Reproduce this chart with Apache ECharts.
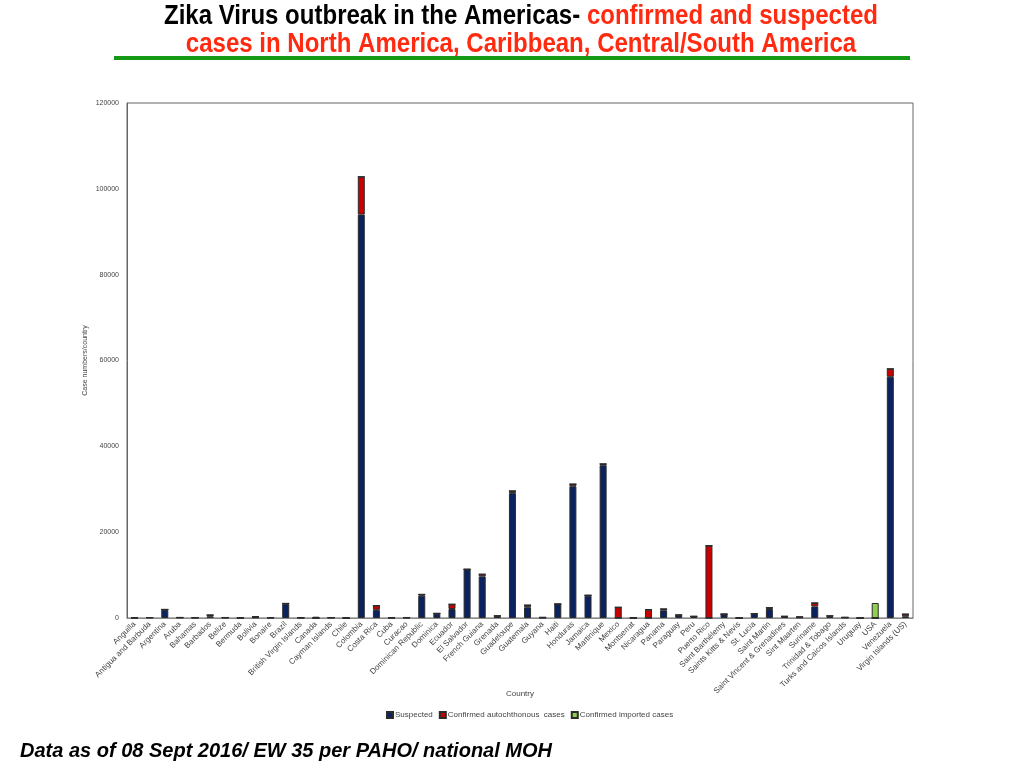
<!DOCTYPE html>
<html>
<head>
<meta charset="utf-8">
<script src="https://cdn.jsdelivr.net/npm/echarts@6/dist/echarts.min.js"></script>
<style>
  html, body { margin: 0; padding: 0; background: #fff; }
  #chart { width: 1024px; height: 768px; }
</style>
</head>
<body>
<div id="chart"></div>
<script>
// 国家列表 + 三类病例数 (从图上读出来的估计值)
var countries = ['Anguilla', 'Antigua and Barbuda', 'Argentina', 'Aruba', 'Bahamas', 'Barbados', 'Belize', 'Bermuda',
    'Bolivia', 'Bonaire', 'Brazil', 'British Virgin Islands', 'Canada', 'Cayman Islands', 'Chile', 'Colombia',
    'Costa Rica', 'Cuba', 'Curacao', 'Dominican Republic', 'Dominica', 'Ecuador', 'El Salvador', 'French Guiana',
    'Grenada', 'Guadeloupe', 'Guatemala', 'Guyana', 'Haiti', 'Honduras', 'Jamaica', 'Martinique', 'Mexico',
    'Montserrat', 'Nicaragua', 'Panama', 'Paraguay', 'Peru', 'Puerto Rico', 'Saint Barthélemy',
    'Saints Kitts & Nevis', 'St. Lucia', 'Saint Martin', 'Saint Vincent & Grenadines', 'Sint Maarten', 'Suriname',
    'Trinidad & Tobago', 'Turks and Caicos Islands', 'Uruguay', 'USA', 'Venezuela', 'Virgin Islands (US)'];

var suspected = [40, 100, 1950, 100, 80, 400, 80, 0,
    150, 50, 3300, 50, 0, 80, 0, 94000,
    1900, 30, 60, 5200, 1000, 2100, 11300, 9700,
    400, 29100, 2500, 50, 3200, 30700, 5200, 35600, 0,
    0, 0, 1800, 600, 300, 0, 850,
    0, 950, 2100, 300, 150, 2700,
    300, 100, 0, 0, 56200, 400];

var confirmedAuto = [20, 10, 50, 30, 20, 300, 40, 30,
    150, 50, 100, 30, 0, 30, 0, 8800,
    1000, 30, 60, 300, 80, 1100, 50, 500,
    100, 500, 500, 100, 50, 500, 100, 300, 2500,
    20, 1950, 300, 100, 100, 16850, 50,
    20, 50, 300, 100, 100, 800,
    200, 50, 0, 0, 1850, 500];

var confirmedImported = [0, 0, 0, 0, 0, 0, 0, 0,
    0, 0, 0, 0, 300, 0, 30, 0,
    0, 0, 0, 0, 0, 0, 0, 0,
    0, 0, 0, 0, 0, 0, 0, 0, 0,
    0, 0, 0, 0, 0, 0, 0,
    0, 0, 0, 0, 0, 0,
    0, 0, 0, 3500, 0, 0];

var yTicks = { min: 0, max: 120000, step: 20000 };

var myChart = echarts.init(document.getElementById('chart'));

var barStyle = function (color) {
    return {
        color: color,
        borderColor: '#2b2b2b',
        borderWidth: 1
    };
};

var titleFont = 'Liberation Sans Narrow, Liberation Sans';

var option = {
    animation: false,
    backgroundColor: '#fff',
    graphic: [
        {
            type: 'text',
            x: 521, y: 3,
            scaleX: 0.89,
            style: {
                text: '{k|Zika Virus outbreak in the Americas- }{r|confirmed and suspected}',
                align: 'center',
                rich: {
                    k: { fontFamily: titleFont, fontWeight: 'bold', fontSize: 27, fill: '#000' },
                    r: { fontFamily: titleFont, fontWeight: 'bold', fontSize: 27, fill: '#ff2a10' }
                }
            }
        },
        {
            type: 'text',
            x: 521, y: 31,
            scaleX: 0.89,
            style: {
                text: 'cases in North America, Caribbean, Central/South America',
                align: 'center',
                fontFamily: titleFont,
                fontWeight: 'bold',
                fontSize: 27,
                fill: '#ff2a10'
            }
        },
        {
            type: 'rect',
            shape: { x: 114, y: 56, width: 796, height: 4 },
            style: { fill: '#169a16' }
        },
        {
            type: 'text',
            x: 20, y: 741,
            style: {
                text: 'Data as of 08 Sept 2016/ EW 35 per PAHO/ national MOH',
                fontFamily: 'Liberation Sans',
                fontWeight: 'bold',
                fontStyle: 'italic',
                fontSize: 20,
                fill: '#000'
            }
        }
    ],
    legend: {
        left: 381,
        top: 706,
        icon: 'rect',
        itemWidth: 6,
        itemHeight: 6,
        itemGap: 6,
        textStyle: { fontSize: 8, color: '#444', fontFamily: 'Liberation Sans', padding: [0, 0, 0, -3] },
        data: ['Suspected', 'Confirmed autochthonous  cases', 'Confirmed imported cases']
    },
    grid: {
        left: 127,
        right: 111,
        top: 103,
        bottom: 150,
        show: true,
        borderColor: '#666',
        borderWidth: 1
    },
    xAxis: {
        type: 'category',
        data: countries,
        name: 'Country',
        nameLocation: 'middle',
        nameGap: 72,
        nameMoveOverlap: false,
        nameTextStyle: { fontSize: 8, color: '#444', fontFamily: 'Liberation Sans' },
        axisLine: { lineStyle: { color: '#888' } },
        axisTick: { show: false },
        axisLabel: {
            interval: 0,
            rotate: 45,
            fontSize: 8,
            color: '#444',
            fontFamily: 'Liberation Sans',
            margin: 5
        }
    },
    yAxis: {
        type: 'value',
        min: yTicks.min,
        max: yTicks.max,
        interval: yTicks.step,
        name: 'Case numbers/country',
        nameLocation: 'middle',
        nameGap: 38,
        nameMoveOverlap: false,
        nameTextStyle: { fontSize: 7, color: '#444', fontFamily: 'Liberation Sans' },
        axisLine: { show: true, lineStyle: { color: '#666' } },
        axisTick: { show: false },
        splitLine: { show: false },
        axisLabel: {
            fontSize: 7, color: '#444', fontFamily: 'Liberation Sans', margin: 8,
            formatter: function (v) { return String(v); }
        }
    },
    series: [
        {
            name: 'Suspected',
            type: 'bar',
            stack: 'cases',
            barWidth: 7,
            itemStyle: barStyle('#0b2260'),
            data: suspected
        },
        {
            name: 'Confirmed autochthonous  cases',
            type: 'bar',
            stack: 'cases',
            barWidth: 7,
            itemStyle: barStyle('#c80000'),
            data: confirmedAuto
        },
        {
            name: 'Confirmed imported cases',
            type: 'bar',
            stack: 'cases',
            barWidth: 7,
            itemStyle: barStyle('#8fd14f'),
            data: confirmedImported
        }
    ]
};

myChart.setOption(option);
</script>
</body>
</html>
